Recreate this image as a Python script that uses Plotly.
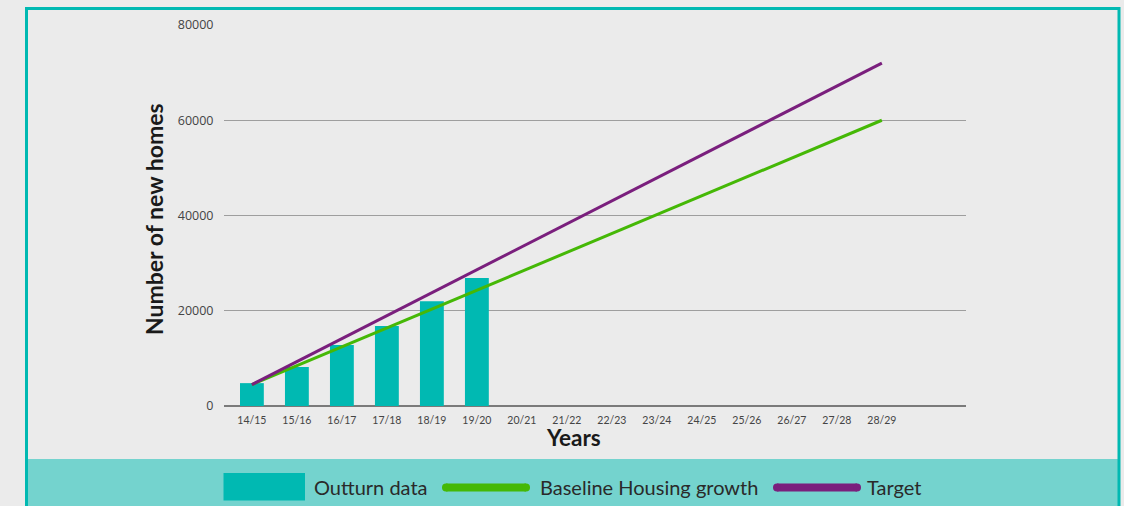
import plotly.graph_objects as go

years = ["14/15", "15/16", "16/17", "17/18", "18/19", "19/20", "20/21", "21/22",
         "22/23", "23/24", "24/25", "25/26", "26/27", "27/28", "28/29"]
outturn_years = years[:6]
outturn = [4800, 8200, 12800, 16800, 22000, 26900]
line_years = [years[0], years[-1]]
baseline = [4500, 60000]
target = [4500, 72000]
y_ticks = [0, 20000, 40000, 60000, 80000]

W, H = 1124, 506
L, R, T, B = 224, 966, 25, 406

def px(x):
    return (x - L) / (R - L)

def py(y):
    return (B - y) / (B - T)

TEAL = "#00b9b2"
GREEN = "#45b806"
PURPLE = "#7a1f7d"
BG = "#ebebeb"

fig = go.Figure()
fig.add_trace(go.Bar(x=outturn_years, y=outturn, width=0.53, marker=dict(color=TEAL, line=dict(width=0)),
                     name="Outturn data", showlegend=False))
fig.add_trace(go.Scatter(x=line_years, y=baseline, mode="lines", line=dict(color=GREEN, width=3),
                         name="Baseline Housing growth", showlegend=False))
fig.add_trace(go.Scatter(x=line_years, y=target, mode="lines", line=dict(color=PURPLE, width=3),
                         name="Target", showlegend=False))


def capsule(x0, x1, yc, th, color):
    r = th / 2
    return [
        dict(type="rect", xref="paper", yref="paper", x0=px(x0 + r), x1=px(x1 - r),
             y0=py(yc + r), y1=py(yc - r), fillcolor=color, line=dict(width=0)),
        dict(type="circle", xref="paper", yref="paper", x0=px(x0), x1=px(x0 + th),
             y0=py(yc + r), y1=py(yc - r), fillcolor=color, line=dict(width=0)),
        dict(type="circle", xref="paper", yref="paper", x0=px(x1 - th), x1=px(x1),
             y0=py(yc + r), y1=py(yc - r), fillcolor=color, line=dict(width=0)),
    ]


shapes = [
    # legend strip
    dict(type="rect", xref="paper", yref="paper", x0=px(27.5), x1=px(1118), y0=py(459), y1=py(520),
         fillcolor="#74d3ce", line=dict(width=0), layer="below"),
    # border
    dict(type="rect", xref="paper", yref="paper", x0=px(26.5), x1=px(1119), y0=py(8.5), y1=py(530),
         fillcolor="rgba(0,0,0,0)", line=dict(color=TEAL, width=3), layer="below"),
    # legend swatch for bars
    dict(type="rect", xref="paper", yref="paper", x0=px(223.5), x1=px(305), y0=py(473), y1=py(500.5),
         fillcolor=TEAL, line=dict(width=0)),
]
shapes += capsule(442, 530, 487.5, 8, GREEN)
shapes += capsule(773, 861, 487.5, 8, PURPLE)

leg_font = dict(family="Lato, 'Source Sans Pro', sans-serif", size=20, color="#2a2a2a")
annotations = [
    dict(text="Outturn data", x=px(312), y=py(487), xref="paper", yref="paper", xanchor="left",
         yanchor="middle", showarrow=False, font=leg_font),
    dict(text="Baseline Housing growth", x=px(538), y=py(487), xref="paper", yref="paper", xanchor="left",
         yanchor="middle", showarrow=False, font=leg_font),
    dict(text="Target", x=px(865), y=py(487), xref="paper", yref="paper", xanchor="left",
         yanchor="middle", showarrow=False, font=leg_font),
    dict(text="<b>Number of new homes</b>", x=px(154), y=py(219), xref="paper", yref="paper",
         xanchor="center", yanchor="middle", textangle=-90, showarrow=False,
         font=dict(family="Lato, sans-serif", size=23, color="#1a1a1a")),
    dict(text="<b>Years</b>", x=px(573), y=py(437), xref="paper", yref="paper",
         xanchor="center", yanchor="middle", showarrow=False,
         font=dict(family="Lato, sans-serif", size=22.5, color="#1a1a1a")),
]

fig.update_layout(
    width=W, height=H,
    margin=dict(l=L, r=W - R, t=T, b=H - B, pad=0),
    paper_bgcolor=BG, plot_bgcolor=BG,
    shapes=shapes, annotations=annotations,
    showlegend=False, bargap=0.4,
    xaxis=dict(type="category", categoryorder="array", categoryarray=years,
               range=[-0.62, 15.87], showgrid=False, zeroline=False, showline=False,
               ticks="outside", ticklen=4, tickcolor="rgba(0,0,0,0)",
               tickfont=dict(family="Lato, sans-serif", size=10.5, color="#444")),
    yaxis=dict(range=[0, 80000], tickvals=y_ticks, tickformat="d",
               showgrid=True, gridcolor="#9e9e9e", gridwidth=1,
               zeroline=True, zerolinecolor="#7a7a7a", zerolinewidth=1.5, showline=False,
               ticks="outside", ticklen=7, tickcolor="rgba(0,0,0,0)",
               tickfont=dict(family="'Open Sans', sans-serif", size=12.5, color="#444")),
)

fig.write_html("out.html", config={"displayModeBar": False},
               post_script="document.body.style.margin='0';document.body.style.overflow='hidden';"
                           "document.body.style.background='%s';" % BG)
